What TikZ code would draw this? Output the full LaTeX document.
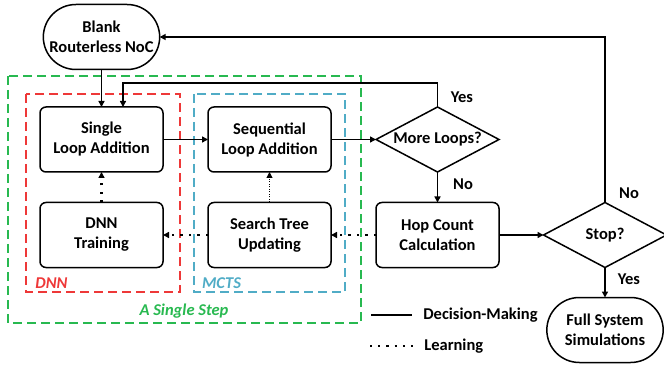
\documentclass[tikz,border=0pt]{standalone}
\usepackage{fontspec}
\setmainfont{Carlito}
\usetikzlibrary{shapes.geometric,shapes.misc,arrows.meta}

\definecolor{stepgreen}{RGB}{40,185,80}
\definecolor{dnnred}{RGB}{238,56,56}
\definecolor{mctsblue}{RGB}{80,172,198}

\begin{document}
\begin{tikzpicture}[x=1pt,y=-1pt,
  every node/.style={font=\bfseries\fontsize{16.5}{20}\selectfont, align=center, outer sep=0pt},
  box/.style={draw, line width=1.5pt, rounded corners=6pt, minimum width=123pt, minimum height=65pt},
  terminal/.style={draw, line width=1.5pt, rounded rectangle, minimum width=123pt, minimum height=65pt},
  decision/.style={draw, line width=1.5pt, diamond, aspect=1.9, inner sep=0pt, minimum width=123pt, minimum height=65pt},
  arr/.style={line width=1.5pt, -{Triangle[length=6pt,width=6pt]}},
  learn/.style={line width=2.2pt, dash pattern=on 2.2pt off 6.3pt, -{Triangle[length=6pt,width=6pt]}},
  finelearn/.style={line width=1pt, dash pattern=on 1pt off 1.5pt, -{Triangle[length=6pt,width=6pt]}},
  region/.style={line width=1.4pt, dash pattern=on 9pt off 5pt}]
\useasboundingbox (0,0) rectangle (664,366);

\draw[region, stepgreen] (8,76) rectangle (361,323);
\draw[region, dnnred] (26,94) rectangle (180,292);
\draw[region, mctsblue] (194,94) rectangle (345,292);
\node[text=dnnred, font=\bfseries\itshape\fontsize{16.5}{20}\selectfont] (dnnlbl) at (51.5,283) {DNN};
\node[text=mctsblue, font=\bfseries\itshape\fontsize{16.5}{20}\selectfont] (mctslbl) at (221.5,283) {MCTS};
\node[text=stepgreen, font=\bfseries\itshape\fontsize{16.5}{20}\selectfont] (steplbl) at (184,311) {A Single Step};

\node[terminal] (brn) at (101.5,37) {Blank\\Routerless NoC};
\node[box] (sla) at (101.5,139.5) {Single\\Loop Addition};
\node[box] (seq) at (269.5,139.5) {Sequential\\Loop Addition};
\node[decision] (mlp) at (437.5,139.5) {More Loops?};
\node[box] (dnn) at (101.5,235) {DNN\\Training};
\node[box] (stu) at (269.5,235) {Search Tree\\Updating};
\node[box] (hop) at (437.5,235) {Hop Count\\Calculation};
\node[decision] (stop) at (605,235) {Stop?};
\node[terminal] (fss) at (605,330) {Full System\\Simulations};

\coordinate (yesturn) at (123,83);
\draw[arr] (brn.south) -- (sla.north);
\draw[arr] (mlp.north) |- (yesturn) -- (yesturn |- sla.north);
\draw[arr] (sla.east) -- (seq.west);
\draw[arr] (seq.east) -- (mlp.west);
\draw[arr] (mlp.south) -- (hop.north);
\draw[arr] (hop.east) -- (stop.west);
\draw[arr] (stop.south) -- (fss.north);
\draw[arr] (stop.north) |- (brn.east);

\draw[learn] (hop.west) -- (stu.east);
\draw[learn] (stu.west) -- (dnn.east);
\draw[learn] (dnn.north) -- (sla.south);
\draw[finelearn] (stu.north) -- (seq.south);

\node (yes1) at (462,97) {Yes};
\node (no1) at (463,184) {No};
\node (no2) at (629,193) {No};
\node (yes2) at (629,279) {Yes};

\node[anchor=west] (decl) at (420,315) {Decision-Making};
\node[anchor=west] (learnl) at (421,346) {Learning};
\coordinate (decs) at (371,315);
\coordinate (learns) at (370,346);
\draw[line width=1.5pt] (decs) -- ([xshift=-8pt]decl.west);
\draw[line width=2.2pt, dash pattern=on 2.2pt off 6pt] (learns) -- ([xshift=-7pt]learnl.west);
\end{tikzpicture}
\end{document}
